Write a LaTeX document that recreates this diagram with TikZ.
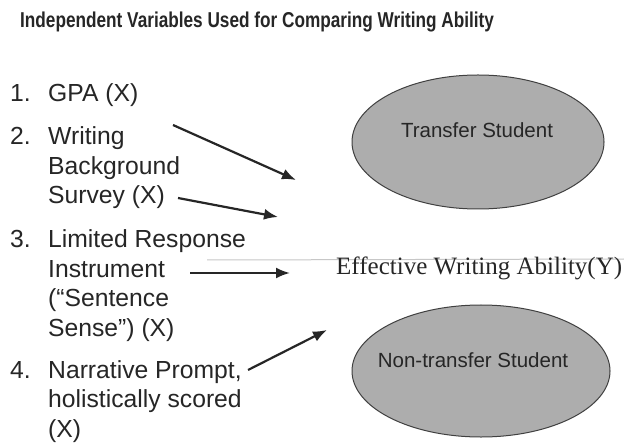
\documentclass[tikz,border=0pt]{standalone}
\usepackage{fontspec}
\setmainfont{Liberation Sans}
\newfontfamily\serifY{Liberation Serif}
\usetikzlibrary{shapes.geometric,arrows.meta}
\definecolor{ellfill}{gray}{0.68}
\definecolor{faint}{gray}{0.78}
\begin{document}
\begin{tikzpicture}[x=1bp,y=-1bp,
  item/.style={anchor=base west,inner sep=0pt,font=\fontsize{24.7bp}{29.5bp}\selectfont,text=black!85},
  oval/.style={ellipse,draw=black!75,line width=1bp,fill=ellfill,inner sep=0pt},
  ovaltext/.style={text=black!85,font=\fontsize{20.5bp}{24bp}\selectfont,inner sep=0pt},
  arr/.style={line width=2.2bp,draw=black!85,-{Latex[length=14bp,width=11bp]}}]
\useasboundingbox (0,0) rectangle (624,448);
\fill[white] (0,0) rectangle (624,448);
% title
\node[anchor=base west,inner sep=0pt,font=\bfseries\fontsize{21.5bp}{24bp}\selectfont,text=black!85] (title) at (20,28)
  {\scalebox{0.80}[1]{Independent Variables Used for Comparing Writing Ability}};
% list
\node[item] (i1) at (10,102) {\begin{tabular}[t]{@{}p{38bp}@{}l@{}}1. & GPA (X)\end{tabular}};
\node[item] (i2) at (10,145) {\begin{tabular}[t]{@{}p{38bp}@{}l@{}}2. & Writing\\ & Background\\ & Survey (X)\end{tabular}};
\node[item] (i3) at (10,248) {\begin{tabular}[t]{@{}p{38bp}@{}l@{}}3. & Limited Response\\ & Instrument\\ & (``Sentence\\ & Sense'') (X)\end{tabular}};
\node[item] (i4) at (10,378) {\begin{tabular}[t]{@{}p{38bp}@{}l@{}}4. & Narrative Prompt,\\ & holistically scored\\ & (X)\end{tabular}};
% ellipses
\node[oval,minimum width=252bp,minimum height=134bp] (tr) at (478,142) {};
\node[ovaltext] (trt) at (477,130) {Transfer Student};
\node[oval,minimum width=258bp,minimum height=132bp] (nt) at (481,371) {};
\node[ovaltext] (ntt) at (473,360) {Non-transfer Student};
% faint line
\coordinate (fl1) at (207,260);
\coordinate (fl2) at (624,259);
\draw[faint,line width=1bp] (fl1) -- (fl2);
% dependent variable
\node[anchor=base west,inner sep=0pt,font=\serifY\fontsize{25bp}{28bp}\selectfont,text=black!85] (dv) at (336,275) {Effective Writing Ability(Y)};
% arrows
\coordinate (a1s) at (173,125); \coordinate (a1e) at (296,180);
\coordinate (a2s) at (178,198); \coordinate (a2e) at (278,217);
\coordinate (a3s) at (190,273); \coordinate (a3e) at (290,273);
\coordinate (a4s) at (248,370); \coordinate (a4e) at (327,330);
\draw[arr] (a1s) -- (a1e);
\draw[arr] (a2s) -- (a2e);
\draw[arr] (a3s) -- (a3e);
\draw[arr] (a4s) -- (a4e);
\end{tikzpicture}
\end{document}
